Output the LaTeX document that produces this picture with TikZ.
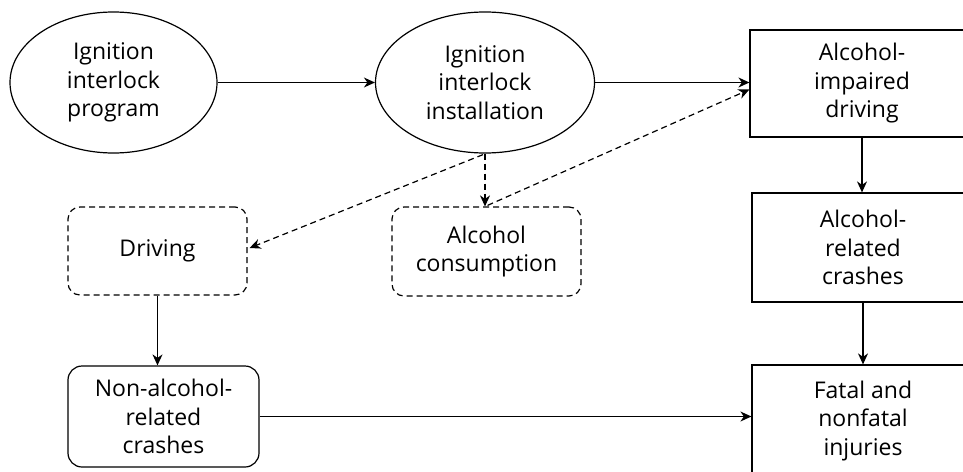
\documentclass[tikz,border=0pt]{standalone}
\usepackage{fontspec}
\setmainfont{Open Sans}
\usetikzlibrary{shapes.geometric,arrows.meta,calc}
\begin{document}
\begin{tikzpicture}[x=1pt,y=-1pt,
  every node/.style={font=\fontsize{23}{28.5}\selectfont, align=center, inner sep=0pt, line width=1.2pt},
  ell/.style={draw, ellipse},
  sqbox/.style={draw, rectangle},
  rbox/.style={draw, rectangle, rounded corners=14pt},
  dbox/.style={draw, rectangle, rounded corners=12pt, dash pattern=on 6pt off 4pt},
  arr/.style={line width=1.2pt, -{Stealth[length=11pt,width=10pt,inset=3.5pt]}},
  darr/.style={arr, dash pattern=on 6pt off 4pt}]
\useasboundingbox (0,0) rectangle (963,471);
\node[ell, minimum width=207pt, minimum height=141pt] (e1) at (113.5,82.5) {Ignition\\interlock\\program};
\node[ell, minimum width=219pt, minimum height=141pt] (e2) at (485,82.5) {Ignition\\interlock\\installation};
\node[sqbox, minimum width=224pt, minimum height=107pt] (b1) at (862,83.5) {Alcohol-\\impaired\\driving};
\node[sqbox, minimum width=222pt, minimum height=109pt] (b2) at (863,247.5) {Alcohol-\\related\\crashes};
\node[sqbox, minimum width=222pt, minimum height=112pt] (b3) at (863,421) {Fatal and\\nonfatal\\injuries};
\node[dbox, minimum width=179pt, minimum height=88pt] (drv) at (157.5,251) {Driving};
\node[dbox, minimum width=189pt, minimum height=89pt] (cons) at (486.5,251.5) {Alcohol\\consumption};
\node[rbox, minimum width=191pt, minimum height=101pt] (nac) at (163.5,416.5) {Non-alcohol-\\related\\crashes};
\draw[arr] (e1.east) -- (e2.west);
\draw[arr] (e2.east) -- (e2.east -| b1.west);
\draw[darr] (e2.south) -- (e2.south |- cons.north);
\draw[darr] ($(e2.south)+(-2,1)$) -- ($(drv.east)+(2,-3)$);
\draw[darr] ($(cons.north)+(1,-1)$) -- ($(b1.west)+(0,6)$);
\draw[arr] (drv.south) -- (drv.south |- nac.north);
\draw[arr] (nac.east) -- (nac.east -| b3.west);
\draw[arr] (b1.south) -- (b1.south |- b2.north);
\draw[arr] (b2.south) -- (b2.south |- b3.north);
\end{tikzpicture}
\end{document}
